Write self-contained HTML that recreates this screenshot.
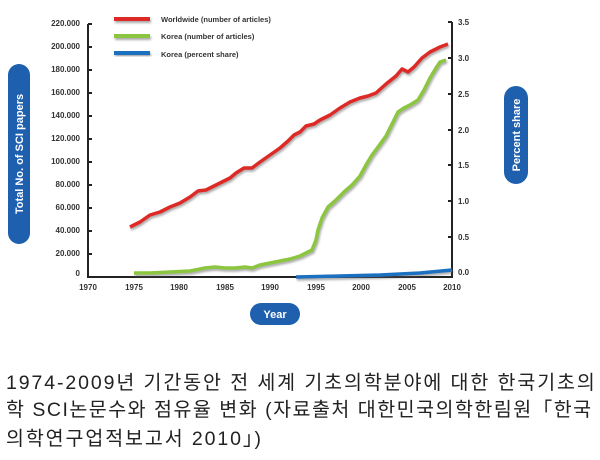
<!DOCTYPE html>
<html><head><meta charset="utf-8"><style>
body{margin:0;background:#fff;width:600px;height:460px;overflow:hidden;font-family:"Liberation Sans","Noto Sans CJK KR",sans-serif}
.cap{position:absolute;left:6px;font-size:19.5px;color:#222;font-family:"Liberation Sans","Noto Sans CJK KR",sans-serif;white-space:nowrap;letter-spacing:1.7px}
</style></head><body>
<svg width="600" height="340" style="position:absolute;left:0;top:0" font-family="Liberation Sans, sans-serif">
<defs><filter id="s"><feDropShadow dx="1" dy="2" stdDeviation="1" flood-color="#555" flood-opacity="0.5"/></filter></defs>
<g stroke="#222" stroke-width="2" fill="none">
<line x1="88" y1="24" x2="88" y2="277"/><line x1="87" y1="277" x2="453" y2="277"/><line x1="452" y1="22" x2="452" y2="277"/>
</g>
<g font-size="8" font-weight="bold" fill="#333" text-anchor="end">
<text x="80" y="26">220.000</text><text x="80" y="49">200.000</text><text x="80" y="72">180.000</text><text x="80" y="95">160.000</text><text x="80" y="118">140.000</text><text x="80" y="141">120.000</text><text x="80" y="164">100.000</text><text x="80" y="187">80.000</text><text x="80" y="210">60.000</text><text x="80" y="233">40.000</text><text x="80" y="256">20.000</text><text x="80" y="276">0</text>
</g>
<g stroke="#222" stroke-width="2"><path d="M88 24h4M88 47h4M88 70h4M88 93h4M88 116h4M88 139h4M88 162h4M88 185h4M88 208h4M88 231h4M88 254h4M452 22h-4M452 58h-4M452 94h-4M452 130h-4M452 165h-4M452 201h-4M452 237h-4"/></g>
<g font-size="8" font-weight="bold" fill="#333">
<text x="458" y="25">3.5</text><text x="458" y="61">3.0</text><text x="458" y="97">2.5</text><text x="458" y="133">2.0</text><text x="458" y="168">1.5</text><text x="458" y="204">1.0</text><text x="458" y="240">0.5</text><text x="458" y="275">0.0</text>
</g>
<g font-size="8" font-weight="bold" fill="#333" text-anchor="middle">
<text x="88" y="290">1970</text><text x="134" y="290">1975</text><text x="179" y="290">1980</text><text x="225" y="290">1985</text><text x="270" y="290">1990</text><text x="316" y="290">1995</text><text x="361" y="290">2000</text><text x="407" y="290">2005</text><text x="452" y="290">2010</text>
</g>
<g fill="none" stroke-width="3.5" stroke-linejoin="round" filter="url(#s)">
<polyline stroke="#dd2a26" points="130,227 140,222 150,215 160,212 170,207 180,203 190,197 198,191 206,190 214,186 222,182 230,178 236,173 244,168 252,168 260,162 270,155 280,148 288,141 294,135 300,132 306,126 314,124 320,120 330,115 340,108 350,102 360,98 368,96 376,93 386,84 396,76 402,69 408,72 414,67 422,58 430,52 440,47 448,44"/>
<polyline stroke="#8cc63f" points="134,273 150,273 170,272 190,271 205,268 215,267 225,268 235,268 245,267 252,268 260,265 270,263 280,261 290,259 300,256 306,253 312,250 316,240 318,230 322,218 328,207 336,200 344,192 352,185 360,176 366,165 372,155 378,147 386,136 392,124 398,112 404,108 410,105 418,100 424,90 430,78 436,68 440,62 446,60"/>
<polyline stroke="#1e6fc0" points="296,277 340,276 380,275 420,273 452,270"/>
</g>
<g stroke-width="4" filter="url(#s)"><line x1="114" y1="19" x2="150" y2="19" stroke="#dd2a26"/><line x1="114" y1="36" x2="150" y2="36" stroke="#8cc63f"/><line x1="114" y1="53" x2="150" y2="53" stroke="#1e6fc0"/></g>
<g font-size="7.5" font-weight="bold" fill="#333"><text x="161" y="22">Worldwide (number of articles)</text><text x="161" y="39">Korea (number of articles)</text><text x="161" y="57">Korea (percent share)</text></g>
<rect x="8" y="64" width="22" height="180" rx="11" fill="#1e5fae"/>
<text transform="translate(23,154) rotate(-90)" font-size="11" font-weight="bold" fill="#fff" text-anchor="middle">Total No. of SCI papers</text>
<rect x="504" y="86" width="24" height="98" rx="12" fill="#1e5fae"/>
<text transform="translate(520,135) rotate(-90)" font-size="11" font-weight="bold" fill="#fff" text-anchor="middle">Percent share</text>
<rect x="250" y="303" width="50" height="22" rx="11" fill="#1e5fae"/>
<text x="275" y="318" font-size="11" font-weight="bold" fill="#fff" text-anchor="middle">Year</text>
</svg>
<div class="cap" style="top:366px;letter-spacing:1.9px">1974-2009년 기간동안 전 세계 기초의학분야에 대한 한국기초의</div>
<div class="cap" style="top:393px;letter-spacing:1.5px">학 SCI논문수와 점유율 변화 (자료출처 대한민국의학한림원「한국</div>
<div class="cap" style="top:422px;letter-spacing:1.9px">의학연구업적보고서 2010」)</div>
</body></html>
